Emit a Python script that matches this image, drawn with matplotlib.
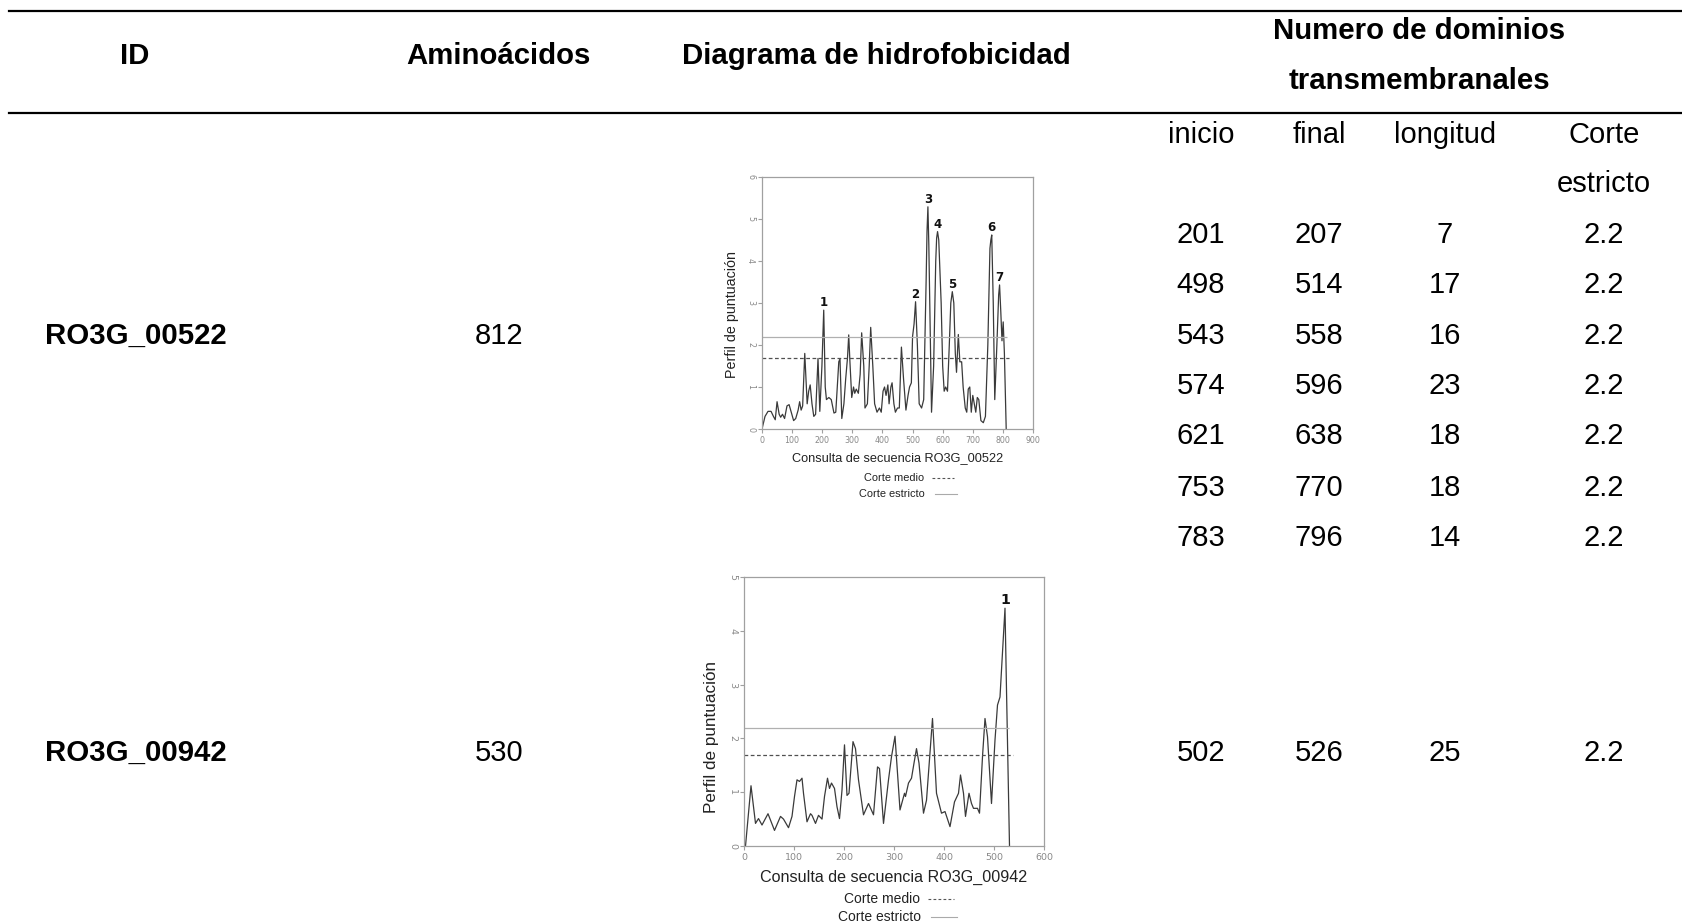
import matplotlib
matplotlib.use("Agg")
import matplotlib.pyplot as plt
from matplotlib.lines import Line2D

# table data
ids = ["RO3G_00522", "RO3G_00942"]
aminoacidos = [812, 530]
tm_inicio = [[201, 498, 543, 574, 621, 753, 783], [502]]
tm_final = [[207, 514, 558, 596, 638, 770, 796], [526]]
tm_longitud = [[7, 17, 16, 23, 18, 18, 14], [25]]
tm_corte = [[2.2] * 7, [2.2]]

corte_medio = 1.7
corte_estricto = 2.2

# hydrophobicity profile RO3G_00522
pos1 = [0, 10, 20, 30, 38, 44, 50, 57, 62, 68, 75, 83, 90, 97, 105, 112, 120,
        125, 130, 135, 142, 146, 150, 155, 160, 166, 172, 178, 186, 192, 199,
        205, 210, 214, 222, 230, 239, 245, 255, 259, 265, 272, 278, 284, 288,
        292, 298, 304, 308, 313, 320, 326, 331, 338, 342, 350, 356, 361, 368,
        374, 382, 390, 396, 402, 407, 412, 418, 422, 428, 432, 438, 443, 450,
        456, 463, 470, 478, 485, 490, 496, 500, 505, 510, 516, 522, 530, 537,
        545, 548, 551, 554, 563, 570, 577, 580, 583, 587, 595, 600, 605, 610,
        616, 622, 627, 632, 637, 642, 646, 652, 657, 663, 668, 675, 680, 685,
        690, 695, 700, 705, 710, 715, 720, 727, 735, 742, 750, 757, 760, 763,
        768, 773, 780, 786, 789, 793, 797, 801, 805, 811]
score1 = [0.0, 0.3, 0.42, 0.42, 0.3, 0.22, 0.65, 0.35, 0.28, 0.35, 0.25, 0.55,
          0.58, 0.4, 0.2, 0.25, 0.45, 0.65, 0.45, 0.55, 1.8, 1.2, 0.6, 0.9,
          1.05, 0.6, 0.3, 0.35, 1.68, 0.42, 1.5, 2.83, 1.0, 0.7, 0.75, 0.7,
          0.38, 0.4, 1.6, 1.67, 0.25, 0.6, 1.2, 1.7, 2.24, 1.6, 0.75, 1.0,
          0.85, 0.95, 0.85, 1.3, 2.29, 1.5, 0.5, 0.6, 1.5, 2.42, 1.5, 0.6,
          0.4, 0.5, 0.4, 0.9, 1.0, 0.8, 1.05, 0.6, 1.0, 1.1, 0.6, 0.4, 0.5,
          0.5, 1.95, 1.2, 0.45, 0.8, 1.0, 1.1, 2.2, 2.5, 3.03, 2.0, 0.6, 0.5,
          0.7, 3.5, 4.7, 5.29, 4.4, 0.4, 1.5, 4.0, 4.55, 4.7, 4.5, 3.0, 1.5,
          0.9, 1.0, 0.9, 2.0, 3.0, 3.27, 3.0, 1.8, 1.35, 2.25, 1.6, 1.6, 1.0,
          0.5, 0.4, 0.95, 1.0, 0.4, 0.8, 0.6, 0.4, 0.75, 0.7, 0.2, 0.15, 0.3,
          2.0, 4.3, 4.5, 4.62, 3.0, 0.7, 2.0, 3.2, 3.43, 2.8, 2.1, 2.55, 1.8,
          0.0]

# hydrophobicity profile RO3G_00942
pos2 = [0, 3, 14, 23, 29, 36, 48, 61, 73, 79, 89, 96, 101, 106, 111, 116, 119,
        126, 133, 136, 143, 149, 156, 161, 167, 171, 175, 181, 186, 191, 196,
        201, 206, 210, 218, 223, 229, 239, 249, 259, 267, 271, 279, 289, 295,
        302, 312, 321, 323, 329, 335, 340, 345, 350, 359, 365, 377, 385, 395,
        402, 412, 421, 429, 433, 439, 443, 450, 455, 459, 467, 471, 477, 482,
        487, 495, 502, 507, 512, 515, 522, 525, 531]
score2 = [0.0, 0.0, 1.12, 0.42, 0.51, 0.39, 0.6, 0.29, 0.55, 0.5, 0.34, 0.55,
          0.92, 1.23, 1.2, 1.26, 0.98, 0.45, 0.6, 0.57, 0.42, 0.57, 0.5, 0.92,
          1.26, 1.07, 1.17, 1.07, 0.73, 0.51, 1.04, 1.88, 0.94, 0.98, 1.94,
          1.81, 1.23, 0.58, 0.79, 0.58, 1.47, 1.44, 0.42, 1.23, 1.66, 2.04,
          0.67, 0.98, 0.92, 1.17, 1.26, 1.54, 1.81, 1.54, 0.61, 0.85, 2.37,
          0.98, 0.61, 0.64, 0.36, 0.82, 0.98, 1.32, 0.98, 0.55, 0.98, 0.79,
          0.7, 0.7, 0.61, 1.66, 2.37, 2.03, 0.79, 1.97, 2.62, 2.77, 3.27,
          4.42, 2.9, 0.0]

peaks1_x = [206, 509, 551, 583, 631, 762, 789]
peaks1_y = [2.83, 3.03, 5.29, 4.7, 3.27, 4.62, 3.43]
peaks2_x = [522]
peaks2_y = [4.42]

W, H = 1682, 923
fig = plt.figure(figsize=(W / 100, H / 100), dpi=100)


def fx(x):
    return x / W


def fy(y):
    return 1 - y / H


def put(x, y, s, **kw):
    kw.setdefault("family", "Liberation Sans")
    kw.setdefault("fontsize", 21)
    fig.text(fx(x), fy(y + 3), s, ha="center", va="center", **kw)


# table rules
fig.add_artist(Line2D([fx(9), 1.0], [fy(11), fy(11)], color="black", lw=1.6))
fig.add_artist(Line2D([fx(9), 1.0], [fy(113), fy(113)], color="black", lw=1.6))

put(135, 53, "ID", fontweight="bold", fontsize=21.2)
put(498, 53, "Aminoácidos", fontweight="bold", fontsize=21.2)
put(876, 53, "Diagrama de hidrofobicidad", fontweight="bold", fontsize=21.2)
put(1419, 28, "Numero de dominios", fontweight="bold", fontsize=21.2)
put(1419, 78, "transmembranales", fontweight="bold", fontsize=21.2)

col_x = [1201, 1319, 1445, 1604]
put(col_x[0], 132, "inicio")
put(col_x[1], 132, "final")
put(col_x[2], 132, "longitud")
put(col_x[3], 132, "Corte")
put(col_x[3], 181, "estricto")

row_y = [[232, 282, 333, 383, 433, 485, 535], [750]]
id_y = [333, 750]
for k in range(len(ids)):
    put(136, id_y[k], ids[k], fontweight="bold", fontsize=21.2)
    put(499, id_y[k], str(aminoacidos[k]))
    for j in range(len(tm_inicio[k])):
        yy = row_y[k][j]
        put(col_x[0], yy, str(tm_inicio[k][j]))
        put(col_x[1], yy, str(tm_final[k][j]))
        put(col_x[2], yy, str(tm_longitud[k][j]))
        put(col_x[3], yy, str(tm_corte[k][j]))


def profile(rect, pos, score, n_aa, xmax, xstep, ymax, peaks_x, peaks_y,
            name, sc, leg_y, leg_x, ylab_y, ylab_pad, xlab_size, leg_size):
    l, t, r, b = rect
    ax = fig.add_axes([fx(l), fy(b), fx(r - l), (b - t) / H])
    ax.plot(pos, score, color="#3a3a3a", lw=0.9, solid_joinstyle="round")
    ax.hlines(corte_estricto, 0, n_aa, color="#b0b0b0", lw=0.9)
    ax.hlines(corte_medio, 0, n_aa + 8, color="#505050", lw=0.9,
              linestyles=(0, (3, 2)))
    for i, (px, py) in enumerate(zip(peaks_x, peaks_y)):
        ax.text(px, py + 0.02, str(i + 1), ha="center", va="bottom",
                fontsize=8.5 * sc, fontweight="bold", family="DejaVu Sans",
                color="#111111")
    ax.set_xlim(0, xmax)
    ax.set_ylim(0, ymax)
    ax.set_xticks(range(0, xmax + 1, xstep))
    ax.set_yticks(range(0, ymax + 1))
    for sp in ax.spines.values():
        sp.set_color("#a0a0a0")
        sp.set_linewidth(0.9)
    ax.tick_params(colors="#a0a0a0", labelcolor="#888888", length=3,
                   width=0.8, labelsize=5.7 * sc, pad=2)
    for lab in ax.get_yticklabels():
        lab.set_rotation(270)
        lab.set_va("center")
    ax.set_xlabel("Consulta de secuencia " + name, fontsize=xlab_size,
                  family="Liberation Sans", color="#222222", labelpad=5 * sc)
    ax.set_ylabel("Perfil de puntuación", fontsize=10.3 * sc,
                  family="Liberation Sans", color="#222222", labelpad=ylab_pad)
    ax.yaxis.label.set_y(ylab_y)
    # little legend under the x label
    fig.text(fx(leg_x), fy(leg_y[0]), "Corte medio", ha="right", va="center",
             fontsize=leg_size, family="Liberation Sans", color="#222222")
    fig.text(fx(leg_x + 1), fy(leg_y[1]), "Corte estricto", ha="right",
             va="center", fontsize=leg_size, family="Liberation Sans",
             color="#222222")
    d = 22 * sc
    fig.add_artist(Line2D([fx(leg_x + 8), fx(leg_x + 8 + d)],
                          [fy(leg_y[0])] * 2, color="#555555", lw=0.8,
                          linestyle=(0, (2.5, 2))))
    fig.add_artist(Line2D([fx(leg_x + 11), fx(leg_x + 11 + d)],
                          [fy(leg_y[1])] * 2, color="#aaaaaa", lw=0.8))
    return ax


profile((762, 177, 1033, 429), pos1, score1, aminoacidos[0], 900, 100, 6,
        peaks1_x, peaks1_y, ids[0], 1.0, (478, 494), 924, 0.456, 4.8, 9.2,
        7.9)
profile((744, 577, 1044, 846), pos2, score2, aminoacidos[1], 600, 100, 5,
        peaks2_x, peaks2_y, ids[1], 1.2, (899, 917), 920, 0.407, 6.7, 11.65,
        10.0)

fig.savefig("out.png", dpi=100)
